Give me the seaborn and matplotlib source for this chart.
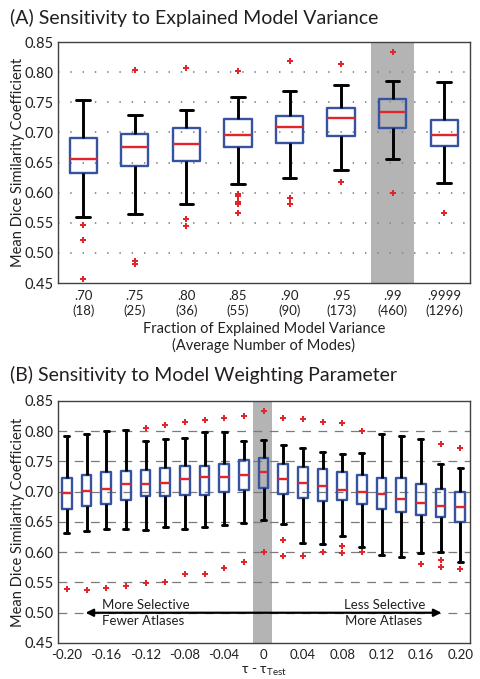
import matplotlib
matplotlib.use("Agg")
import matplotlib.pyplot as plt
import seaborn as sns
import pandas as pd

# ---------------- Data: panel A ----------------
a_fraction = [".70", ".75", ".80", ".85", ".90", ".95", ".99", ".9999"]
a_modes = [18, 25, 36, 55, 90, 173, 460, 1296]
a_whislo = [0.559, 0.565, 0.581, 0.614, 0.625, 0.638, 0.656, 0.616]
a_q1 = [0.633, 0.645, 0.652, 0.676, 0.682, 0.694, 0.707, 0.677]
a_med = [0.656, 0.676, 0.681, 0.696, 0.709, 0.724, 0.734, 0.696]
a_q3 = [0.691, 0.698, 0.708, 0.722, 0.728, 0.740, 0.755, 0.720]
a_whishi = [0.754, 0.729, 0.737, 0.758, 0.768, 0.779, 0.786, 0.783]
a_out_idx = [0, 0, 0, 1, 1, 1, 2, 2, 2, 3, 3, 3, 3, 3, 3, 4, 4, 4, 5, 5, 6, 6, 7]
a_out_val = [0.546, 0.521, 0.457, 0.803, 0.486, 0.481, 0.807, 0.557, 0.545,
             0.802, 0.598, 0.595, 0.584, 0.581, 0.567, 0.819, 0.591, 0.581,
             0.813, 0.618, 0.833, 0.600, 0.567]

# ---------------- Data: panel B ----------------
b_tau = [-0.20, -0.18, -0.16, -0.14, -0.12, -0.10, -0.08, -0.06, -0.04, -0.02, 0.0,
         0.02, 0.04, 0.06, 0.08, 0.10, 0.12, 0.14, 0.16, 0.18, 0.20]
b_whishi = [0.792, 0.795, 0.800, 0.802, 0.784, 0.787, 0.789, 0.799, 0.799, 0.784, 0.786,
            0.778, 0.772, 0.766, 0.762, 0.764, 0.796, 0.792, 0.788, 0.746, 0.740]
b_q3 = [0.723, 0.727, 0.732, 0.734, 0.736, 0.740, 0.743, 0.743, 0.746, 0.752, 0.755,
        0.746, 0.741, 0.737, 0.732, 0.727, 0.723, 0.722, 0.712, 0.705, 0.699]
b_med = [0.698, 0.702, 0.705, 0.712, 0.712, 0.715, 0.721, 0.724, 0.725, 0.728, 0.733,
         0.721, 0.715, 0.709, 0.703, 0.699, 0.696, 0.688, 0.682, 0.676, 0.675]
b_q1 = [0.672, 0.677, 0.679, 0.687, 0.693, 0.693, 0.695, 0.694, 0.699, 0.703, 0.706,
        0.697, 0.689, 0.685, 0.686, 0.679, 0.672, 0.666, 0.662, 0.659, 0.650]
b_whislo = [0.632, 0.635, 0.639, 0.639, 0.636, 0.641, 0.639, 0.642, 0.645, 0.649, 0.653,
            0.646, 0.615, 0.613, 0.627, 0.609, 0.596, 0.592, 0.598, 0.601, 0.584]
b_out_tau = [-0.20, -0.18, -0.16, -0.14, -0.12, -0.12, -0.10, -0.10, -0.08, -0.08,
             -0.06, -0.06, -0.04, -0.04, -0.02, -0.02, 0.0, 0.0, 0.02, 0.02, 0.02,
             0.04, 0.04, 0.06, 0.06, 0.08, 0.08, 0.08, 0.10, 0.10, 0.16,
             0.18, 0.18, 0.18, 0.20, 0.20]
b_out_val = [0.539, 0.538, 0.541, 0.545, 0.805, 0.549, 0.811, 0.551, 0.816, 0.564,
             0.818, 0.564, 0.822, 0.574, 0.825, 0.584, 0.833, 0.600, 0.822, 0.620, 0.593,
             0.820, 0.593, 0.816, 0.600, 0.813, 0.611, 0.598, 0.801, 0.600, 0.581,
             0.779, 0.587, 0.575, 0.773, 0.572]

y_ticks = [0.45, 0.50, 0.55, 0.60, 0.65, 0.70, 0.75, 0.80, 0.85]
b_xticks = [-0.20, -0.16, -0.12, -0.08, -0.04, 0.0, 0.04, 0.08, 0.12, 0.16, 0.20]
b_xticklabels = ["-0.20", "-0.16", "-0.12", "-0.08", "-0.04", "0",
                 "0.04", "0.08", "0.12", "0.16", "0.20"]

# ---------------- Style ----------------
sns.set_theme(style="white")
plt.rcParams["font.family"] = ["Lato", "DejaVu Sans"]
plt.rcParams["mathtext.fontset"] = "custom"
plt.rcParams["mathtext.rm"] = "Lato"

BLUE = "#3553a0"
RED = "#e0262a"
BAND = "#b4b4b4"
SPINE = "#404040"
TXT = "#231f20"


def five_point_frame(keys, lo, q1, med, q3, hi, keyname):
    rows = []
    for k, a, b, c, d, e in zip(keys, lo, q1, med, q3, hi):
        for v in (a, b, c, d, e):
            rows.append({keyname: k, "value": v})
    return pd.DataFrame(rows)


box_kws = dict(
    fill=False, whis=(0, 100), showfliers=False,
    boxprops=dict(color=BLUE, linewidth=1.7),
    medianprops=dict(color=RED, linewidth=1.7),
    whiskerprops=dict(color="black", linewidth=2.1, linestyle="-"),
    capprops=dict(color="black", linewidth=2.1),
)

fig = plt.figure(figsize=(4.81, 6.79), dpi=100)
ax1 = fig.add_axes([58 / 481, 1 - 283 / 679, 412 / 481, 241 / 679])
ax2 = fig.add_axes([58 / 481, 1 - 643 / 679, 412 / 481, 242 / 679])

# ---------------- Panel A ----------------
a_labels = [f"{f}\n({m})" for f, m in zip(a_fraction, a_modes)]
dfa = five_point_frame(a_labels, a_whislo, a_q1, a_med, a_q3, a_whishi, "label")
ax1.axvspan(6 - 0.42, 6 + 0.42, color=BAND, zorder=0, lw=0)
sns.boxplot(data=dfa, x="label", y="value", order=a_labels, ax=ax1, width=0.53, **box_kws)
dfa_out = pd.DataFrame({"label": [a_labels[i] for i in a_out_idx], "value": a_out_val})
sns.stripplot(data=dfa_out, x="label", y="value", order=a_labels, ax=ax1, jitter=False,
              marker="P", color=RED, size=5, linewidth=0, zorder=5)
ax1.set_xlim(-0.49, 7.5)
ax1.set_ylim(0.45, 0.85)
ax1.set_yticks(y_ticks)
ax1.set_yticklabels([f"{t:.2f}" for t in y_ticks], fontsize=10.5, color=TXT)
ax1.tick_params(axis="x", labelsize=9.5, colors=TXT, length=0, pad=5)
ax1.tick_params(axis="y", length=0, pad=3)
for t in y_ticks[1:-1]:
    ax1.axhline(t, color="#8a8a8a", lw=1.3, ls=(0, (0.8, 6)), zorder=0.5)
ax1.set_xlabel("Fraction of Explained Model Variance\n(Average Number of Modes)",
               fontsize=10.5, color=TXT, labelpad=4, linespacing=1.15)
ax1.set_ylabel("")

# ---------------- Panel B ----------------
dfb = five_point_frame(b_tau, b_whislo, b_q1, b_med, b_q3, b_whishi, "tau")
ax2.axvspan(-0.0105, 0.009, color=BAND, zorder=0, lw=0)
for t in y_ticks[1:-1]:
    ax2.axhline(t, color="#7a7a7a", lw=0.9, ls=(0, (7, 6)), zorder=0.5)
sns.boxplot(data=dfb, x="tau", y="value", native_scale=True, ax=ax2, width=0.5, **box_kws)
dfb_out = pd.DataFrame({"tau": b_out_tau, "value": b_out_val})
sns.stripplot(data=dfb_out, x="tau", y="value", native_scale=True, ax=ax2, jitter=False,
              marker="P", color=RED, size=5, linewidth=0, zorder=5)
ax2.set_xlim(-0.209, 0.21)
ax2.set_ylim(0.45, 0.85)
ax2.set_yticks(y_ticks)
ax2.set_yticklabels([f"{t:.2f}" for t in y_ticks], fontsize=10.5, color=TXT)
ax2.set_xticks(b_xticks)
ax2.set_xticklabels(b_xticklabels, fontsize=9.5, color=TXT)
ax2.tick_params(axis="x", length=0, pad=4)
ax2.tick_params(axis="y", length=0, pad=3)
ax2.set_xlabel(r"τ - τ$_{\mathregular{Test}}$", fontsize=10, color=TXT, labelpad=3,
               family=["Lato", "DejaVu Sans"])
ax2.set_ylabel("")

ax2.annotate("", xy=(-0.181, 0.50), xytext=(0.181, 0.50),
             arrowprops=dict(arrowstyle="<|-|>", color="black", lw=1.6,
                             mutation_scale=11, shrinkA=0, shrinkB=0), zorder=6)
ax2.text(-0.164, 0.5125, "More Selective", fontsize=9.5, ha="left", va="center", color=TXT)
ax2.text(-0.164, 0.4865, "Fewer Atlases", fontsize=9.5, ha="left", va="center", color=TXT)
ax2.text(0.165, 0.5125, "Less Selective", fontsize=9.5, ha="right", va="center", color=TXT)
ax2.text(0.161, 0.4865, "More Atlases", fontsize=9.5, ha="right", va="center", color=TXT)

for ax in (ax1, ax2):
    for s in ax.spines.values():
        s.set_color(SPINE)
        s.set_linewidth(1.0)
    ax.set_facecolor("white")

# y labels and titles
fig.text(18 / 481, 1 - 162 / 679, "Mean Dice Similarity Coefficient", rotation=90,
         ha="center", va="center", fontsize=10.5, color=TXT)
fig.text(18 / 481, 1 - 522 / 679, "Mean Dice Similarity Coefficient", rotation=90,
         ha="center", va="center", fontsize=10.5, color=TXT)
fig.text(10 / 481, 1 - 18 / 679, "(A) Sensitivity to Explained Model Variance",
         ha="left", va="center", fontsize=14, color=TXT)
fig.text(10 / 481, 1 - 375 / 679, "(B) Sensitivity to Model Weighting Parameter",
         ha="left", va="center", fontsize=14, color=TXT)

fig.savefig("out.png", dpi=100)
